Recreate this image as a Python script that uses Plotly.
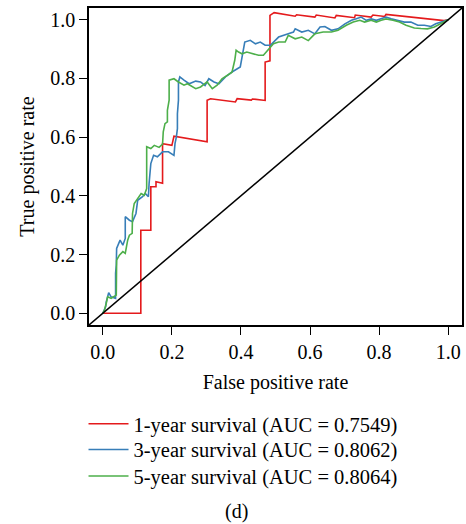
import plotly.graph_objects as go

# ---- data ----
fpr_1y = [0, 0.11, 0.11, 0.139, 0.139, 0.154, 0.154, 0.173, 0.173, 0.2, 0.206, 0.302, 0.302,
          0.312, 0.384, 0.389, 0.43, 0.433, 0.47, 0.47, 0.484, 0.484, 0.496, 0.557, 0.561,
          0.614, 0.618, 0.672, 0.676, 0.729, 0.731, 0.777, 0.782, 0.816, 0.82, 0.988, 1.0]
tpr_1y = [0, 0, 0.283, 0.283, 0.431, 0.431, 0.448, 0.443, 0.578, 0.572, 0.603, 0.584, 0.726,
          0.731, 0.72, 0.731, 0.726, 0.73, 0.725, 0.856, 0.86, 1.015, 1.024, 1.012, 1.017,
          1.009, 1.016, 1.006, 1.015, 1.007, 1.016, 1.009, 1.016, 1.011, 1.018, 0.997, 1.0]

fpr_3y = [0, 0.008, 0.01, 0.017, 0.024, 0.037, 0.037, 0.039, 0.04, 0.05, 0.058, 0.065, 0.065,
          0.077, 0.086, 0.096, 0.101, 0.115, 0.123, 0.132, 0.134, 0.139, 0.147, 0.158, 0.173,
          0.19, 0.206, 0.209, 0.213, 0.216, 0.216, 0.219, 0.219, 0.223, 0.235, 0.25, 0.269,
          0.283, 0.296, 0.307, 0.322, 0.336, 0.355, 0.374, 0.398, 0.403, 0.411, 0.427, 0.442,
          0.456, 0.47, 0.485, 0.499, 0.509, 0.537, 0.552, 0.557, 0.576, 0.595, 0.614, 0.629,
          0.643, 0.662, 0.681, 0.701, 0.72, 0.734, 0.748, 0.763, 0.777, 0.792, 0.806, 0.82,
          0.835, 0.854, 0.873, 0.892, 0.912, 0.931, 0.95, 0.964, 0.979, 0.993, 1.0]
tpr_3y = [0, 0.022, 0.039, 0.07, 0.056, 0.051, 0.136, 0.164, 0.221, 0.249, 0.232, 0.255, 0.329,
          0.317, 0.312, 0.34, 0.385, 0.397, 0.408, 0.397, 0.442, 0.51, 0.538, 0.533, 0.55,
          0.55, 0.538, 0.578, 0.601, 0.629, 0.68, 0.726, 0.788, 0.805, 0.794, 0.782, 0.791,
          0.788, 0.776, 0.799, 0.788, 0.782, 0.805, 0.822, 0.839, 0.873, 0.924, 0.93, 0.918,
          0.924, 0.913, 0.913, 0.93, 0.941, 0.952, 0.958, 0.969, 0.958, 0.964, 0.952, 0.975,
          0.977, 0.964, 0.969, 0.986, 0.998, 1.003, 1.009, 0.998, 1.003, 0.998, 1.003, 1.009,
          1.003, 0.998, 0.992, 0.992, 0.981, 0.981, 0.977, 0.986, 0.992, 0.998, 1.0]

fpr_5y = [0, 0.005, 0.01, 0.014, 0.024, 0.039, 0.04, 0.048, 0.058, 0.065, 0.072, 0.077, 0.085,
          0.086, 0.091, 0.101, 0.111, 0.12, 0.127, 0.127, 0.139, 0.149, 0.163, 0.173, 0.175,
          0.18, 0.187, 0.187, 0.192, 0.192, 0.206, 0.219, 0.235, 0.245, 0.259, 0.269, 0.283,
          0.302, 0.317, 0.331, 0.345, 0.36, 0.374, 0.382, 0.386, 0.393, 0.403, 0.417, 0.432,
          0.451, 0.465, 0.48, 0.494, 0.509, 0.528, 0.537, 0.557, 0.576, 0.595, 0.614, 0.638,
          0.662, 0.681, 0.705, 0.725, 0.744, 0.758, 0.777, 0.792, 0.806, 0.82, 0.84, 0.859,
          0.878, 0.902, 0.921, 0.94, 0.96, 0.979, 0.998, 1.0]
tpr_5y = [0, 0.011, 0.034, 0.056, 0.051, 0.062, 0.181, 0.198, 0.21, 0.204, 0.249, 0.266, 0.272,
          0.34, 0.374, 0.391, 0.408, 0.402, 0.425, 0.567, 0.561, 0.572, 0.565, 0.576, 0.618,
          0.646, 0.652, 0.691, 0.726, 0.794, 0.799, 0.788, 0.777, 0.782, 0.771, 0.765, 0.771,
          0.788, 0.765, 0.777, 0.799, 0.811, 0.821, 0.862, 0.896, 0.89, 0.884, 0.89, 0.884,
          0.879, 0.879, 0.901, 0.918, 0.924, 0.924, 0.947, 0.935, 0.941, 0.929, 0.952, 0.958,
          0.958, 0.964, 0.981, 0.992, 0.998, 0.992, 0.998, 0.992, 0.998, 1.003, 0.998, 0.992,
          0.981, 0.972, 0.97, 0.969, 0.975, 0.986, 0.998, 1.0]

series_names = ["1-year survival (AUC = 0.7549)",
                "3-year survival (AUC = 0.8062)",
                "5-year survival (AUC = 0.8064)"]
series_colors = ["#E41A1C", "#377EB8", "#4DAF4A"]

tick_vals = [0, 0.2, 0.4, 0.6, 0.8, 1.0]
tick_text = ["0.0", "0.2", "0.4", "0.6", "0.8", "1.0"]
axis_range = [-0.04, 1.04]

FONT = "Liberation Serif"
legend_ids = ["legend", "legend2", "legend3"]
legend_tops = [-0.249, -0.33, -0.414]

fig = go.Figure()
for xs, ys, name, col, lg in zip([fpr_1y, fpr_3y, fpr_5y], [tpr_1y, tpr_3y, tpr_5y],
                                 series_names, series_colors, legend_ids):
    fig.add_trace(go.Scatter(x=xs, y=ys, mode="lines", name=name, legend=lg,
                             line=dict(color=col, width=1.6), hoverinfo="skip"))

# reference diagonal (abline 0,1)
fig.add_shape(type="line", xref="x", yref="y",
              x0=axis_range[0], y0=axis_range[0], x1=axis_range[1], y1=axis_range[1],
              line=dict(color="black", width=1.5), layer="above")

axis_common = dict(range=axis_range, tickvals=tick_vals, ticktext=tick_text,
                   ticks="outside", ticklen=8, tickwidth=1.2, tickcolor="black",
                   showline=True, linecolor="black", linewidth=1.5, mirror=True,
                   showgrid=False, zeroline=False,
                   tickfont=dict(family=FONT, size=20, color="black"))

legend_common = dict(x=-0.0147, xanchor="left", yanchor="top", itemwidth=40,
                     font=dict(family=FONT, size=20.5, color="black"),
                     bgcolor="rgba(0,0,0,0)")

layout_legends = {lg: dict(**legend_common, y=yt) for lg, yt in zip(legend_ids, legend_tops)}

fig.update_layout(
    width=466, height=524,
    margin=dict(l=89, r=2, t=8, b=199),
    plot_bgcolor="white", paper_bgcolor="white",
    xaxis=dict(**axis_common,
               title=dict(text="False positive rate", font=dict(family=FONT, size=20, color="black"),
                          standoff=13)),
    yaxis=dict(**axis_common,
               title=dict(text="True positive rate", font=dict(family=FONT, size=20, color="black"),
                          standoff=10)),
    showlegend=True,
    annotations=[dict(text="(d)", xref="paper", yref="paper", x=0.395, y=-0.587,
                      xanchor="center", yanchor="middle", showarrow=False,
                      font=dict(family=FONT, size=20, color="black"))],
    **layout_legends,
)

fig.write_html("out.html")
